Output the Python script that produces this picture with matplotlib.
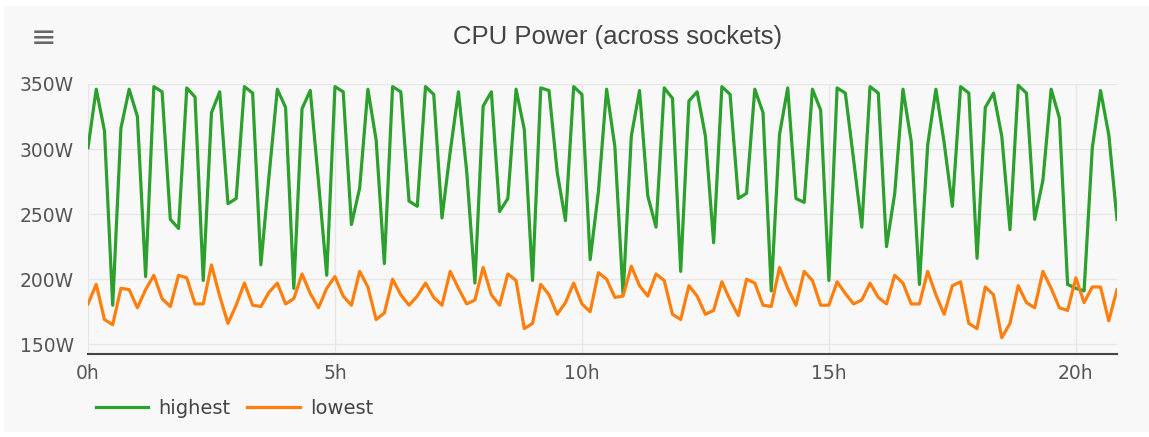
import numpy as np
import matplotlib
matplotlib.use("Agg")
import matplotlib.pyplot as plt
from matplotlib.patches import Rectangle

# samples every 10 minutes, starting at 0h
hours = np.arange(126) / 6.0

highest = [301, 346, 314, 180, 316, 346, 325, 202, 348, 344, 246, 239, 347, 340, 199, 328,
           344, 258, 262, 348, 343, 211, 280, 346, 332, 193, 331, 345, 275, 203, 348, 344,
           242, 270, 346, 307, 212, 348, 344, 260, 256, 348, 342, 247, 298, 344, 283, 197,
           333, 344, 252, 262, 346, 315, 199, 347, 345, 282, 245, 348, 342, 215, 267, 346,
           302, 188, 310, 345, 264, 240, 347, 339, 206, 337, 344, 310, 228, 348, 342, 262,
           266, 346, 328, 191, 311, 347, 262, 259, 346, 330, 199, 347, 343, 292, 240, 348,
           343, 225, 266, 346, 306, 196, 303, 346, 305, 256, 348, 343, 216, 332, 343, 310,
           238, 349, 343, 246, 276, 346, 324, 196, 193, 191, 301, 345, 311, 246]

lowest = [181, 196, 169, 165, 193, 192, 178, 192, 203, 185, 179, 203, 201, 181, 181, 211,
          187, 166, 180, 197, 180, 179, 190, 197, 181, 185, 204, 189, 178, 193, 202, 187,
          180, 206, 194, 169, 174, 200, 188, 180, 187, 197, 186, 180, 206, 193, 181, 184,
          209, 188, 180, 204, 199, 162, 166, 196, 188, 173, 182, 197, 181, 175, 205, 200,
          186, 187, 210, 195, 187, 204, 199, 173, 169, 195, 187, 173, 176, 198, 184, 172,
          200, 197, 180, 179, 209, 193, 180, 206, 199, 180, 180, 198, 189, 181, 184, 197,
          186, 181, 203, 197, 181, 181, 206, 188, 173, 195, 198, 166, 162, 194, 188, 155,
          166, 195, 182, 178, 206, 193, 178, 176, 201, 182, 194, 194, 168, 192]

y_ticks = [150, 200, 250, 300, 350]
x_ticks = [0, 5, 10, 15, 20]

W, H = 1149, 437
fig = plt.figure(figsize=(W / 100, H / 100), dpi=100, facecolor="white")
fig.patches.append(Rectangle((4 / W, 5 / H), 1, 1 - 11 / H, transform=fig.transFigure,
                             facecolor="#f8f8f8", edgecolor="none", zorder=-10))

ax = fig.add_axes([88 / W, (H - 354) / H, (1117 - 88) / W, (354 - 84) / H])
ax.set_facecolor("#f8f8f8")

ax.plot(hours, highest, color="#2ca02c", lw=2.3, label="highest")
ax.plot(hours, lowest, color="#ff7f0e", lw=2.3, label="lowest")

ax.set_xlim(0, hours[-1])
ax.set_ylim(142.5, 350)
ax.set_yticks(y_ticks)
ax.set_yticklabels(["{}W".format(v) for v in y_ticks])
ax.set_xticks(x_ticks)
ax.set_xticklabels(["{}h".format(v) for v in x_ticks])
ax.grid(True, color="#e6e6e6", lw=1)
ax.set_axisbelow(True)
for side in ["top", "right", "left"]:
    ax.spines[side].set_visible(False)
ax.spines["bottom"].set_color("#444444")
ax.spines["bottom"].set_linewidth(1.5)
ax.tick_params(axis="both", length=0, labelsize=13.5, labelcolor="#555555")
ax.tick_params(axis="y", pad=10)
ax.tick_params(axis="x", pad=7)

fig.text(618 / W, 1 - 37 / H, "CPU Power (across sockets)", ha="center", va="center",
         fontsize=18.5, color="#444444", family="Liberation Sans")
fig.text(44 / W, 1 - 39 / H, "\u2261", ha="center", va="center", fontsize=22, color="#666666")

fig.legend(loc="center left", bbox_to_anchor=(78 / W, 1 - 408 / H), ncol=2, frameon=False,
           fontsize=14, handlelength=2.7, columnspacing=0.85, handletextpad=0.55,
           labelcolor="#444444")

fig.savefig("out.png", dpi=100, facecolor=fig.get_facecolor())
